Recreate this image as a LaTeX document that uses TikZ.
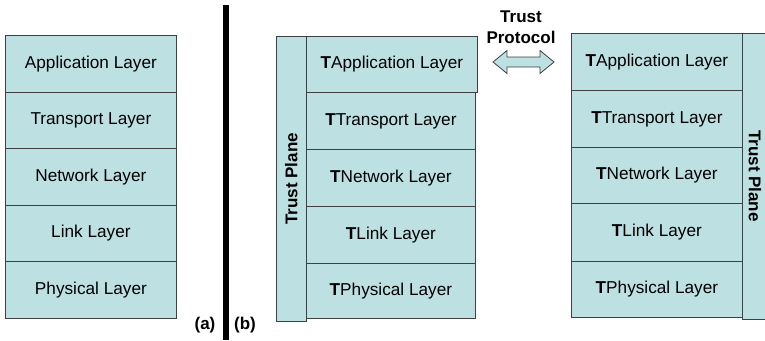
\documentclass[tikz,border=0pt]{standalone}
\usepackage{fontspec}
\setmainfont{Liberation Sans}
\begin{document}
\begin{tikzpicture}[x=1pt,y=-1pt,
  layer/.style={draw=black!75,line width=0.8pt,fill=lay,anchor=north west,inner sep=0pt,font=\fontsize{17.2}{20}\selectfont},
  plane/.style={draw=black!75,line width=0.8pt,fill=lay,anchor=north west,inner sep=0pt},
  lbl/.style={font=\bfseries\fontsize{17}{20}\selectfont,inner sep=0pt}]
\definecolor{lay}{HTML}{BDE0E2}
\useasboundingbox (0,0) rectangle (765,340);
% left stack
\foreach \t [count=\i from 0] in {Application Layer,Transport Layer,Network Layer,Link Layer,Physical Layer}{
  \node[layer,minimum width=171pt,minimum height=56.6pt] (a\i) at (5,35+56.6*\i) {\t};
}
% divider
\fill[black] (222.5,5) rectangle (228.5,340);
\node[lbl] (la) at (205,325) {(a)};
\node[lbl] (lb) at (245,325) {(b)};
% middle stack
\node[plane,minimum width=30pt,minimum height=285pt] (p1) at (276,36) {};
\node[lbl,rotate=90] (p1t) at (p1.center) {Trust Plane};
\node[layer,minimum width=171pt,minimum height=56pt] (b0) at (306,36) {\textbf{T}Application Layer};
\node[layer,minimum width=169pt,minimum height=57pt] (b1) at (306,92) {\textbf{T}Transport Layer};
\node[layer,minimum width=169pt,minimum height=57pt] (b2) at (306,149) {\textbf{T}Network Layer};
\node[layer,minimum width=169pt,minimum height=57pt] (b3) at (306,206) {\textbf{T}Link Layer};
\node[layer,minimum width=169pt,minimum height=55pt] (b4) at (306,263) {\textbf{T}Physical Layer};
% right stack
\node[plane,minimum width=30pt,minimum height=286pt] (p2) at (742,33) {};
\node[lbl,rotate=-90] (p2t) at (755,176) {Trust Plane};
\foreach \t/\y/\h [count=\i from 0] in {Application/33/57,Transport/90/57,Network/147/56,Link/203/58,Physical/261/56}{
  \node[layer,minimum width=171pt,minimum height=\h pt] (c\i) at (571,\y) {\textbf{T}\t\ Layer};
}
% trust protocol arrow
\node[lbl,align=center,font=\bfseries\fontsize{17}{21}\selectfont] (tp) at (521,27) {Trust\\Protocol};
\filldraw[fill=lay,draw=black!75,line width=0.8pt]
  (493,62) -- (507,50.5) -- (507,57) -- (540,57) -- (540,50.5) -- (554,62)
  -- (540,73.5) -- (540,67) -- (507,67) -- (507,73.5) -- cycle;
\end{tikzpicture}
\end{document}
